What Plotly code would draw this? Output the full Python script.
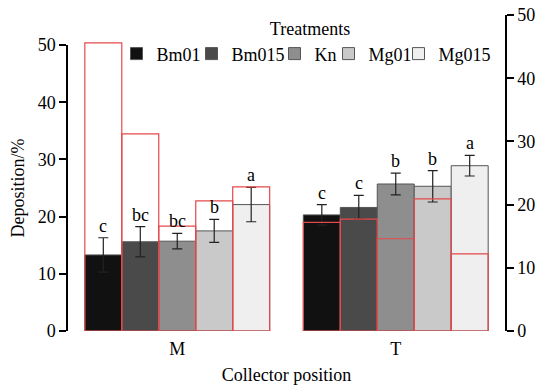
import plotly.graph_objects as go

positions = ["M", "T"]
treatments = ["Bm01", "Bm015", "Kn", "Mg01", "Mg015"]
colors = ["#111111", "#4a4a4a", "#8e8e8e", "#c9c9c9", "#efefef"]

# deposition (left axis), per treatment: [M, T]
dep = {
    "Bm01": [13.3, 20.3],
    "Bm015": [15.6, 21.6],
    "Kn": [15.7, 25.7],
    "Mg01": [17.5, 25.3],
    "Mg015": [22.1, 28.9],
}
err = {
    "Bm01": [3.0, 1.8],
    "Bm015": [2.65, 2.1],
    "Kn": [1.35, 1.9],
    "Mg01": [2.0, 2.75],
    "Mg015": [3.0, 1.8],
}
letters = {
    "Bm01": ["c", "c"],
    "Bm015": ["bc", "c"],
    "Kn": ["bc", "b"],
    "Mg01": ["b", "b"],
    "Mg015": ["a", "a"],
}
# red outlined bars (right axis)
red = {
    "Bm01": [45.6, 17.2],
    "Bm015": [31.2, 17.7],
    "Kn": [16.6, 14.6],
    "Mg01": [20.6, 20.9],
    "Mg015": [22.8, 12.2],
}

# legend entry widths (styling only)
legend_w = {"Bm01": 30, "Bm015": 38, "Kn": 9, "Mg01": 25, "Mg015": 60}

FONT = "Liberation Serif, Times New Roman, serif"
FS = 18
n = len(treatments)
group_w = 0.846
w = group_w / n

fig = go.Figure()
annotations = []
for i, t in enumerate(treatments):
    off = -group_w / 2 + i * w
    fig.add_trace(go.Bar(
        x=positions, y=dep[t], name=t, width=w, offset=off,
        legendwidth=legend_w[t],
        marker=dict(color=colors[i], line=dict(color="#555555", width=1)),
        error_y=dict(type="data", array=err[t], color="#222222", thickness=1.2, width=5),
        xaxis="x", yaxis="y",
    ))
    for j, p in enumerate(positions):
        annotations.append(dict(
            x=j + off + w / 2, y=dep[t][j] + err[t][j], xref="x", yref="y",
            text=letters[t][j], showarrow=False, yanchor="bottom", yshift=0,
            font=dict(family=FONT, size=FS, color="black"),
        ))
for i, t in enumerate(treatments):
    off = -group_w / 2 + i * w
    fig.add_trace(go.Bar(
        x=positions, y=red[t], width=w, offset=off, showlegend=False,
        marker=dict(color="rgba(0,0,0,0)", line=dict(color="#e5484b", width=1.2)),
        xaxis="x", yaxis="y2", hoverinfo="skip",
    ))

fig.update_layout(
    width=536, height=385,
    margin=dict(l=68, r=31, t=15, b=54, autoexpand=False),
    paper_bgcolor="white", plot_bgcolor="rgba(0,0,0,0)",
    font=dict(family=FONT, size=FS, color="black"),
    barmode="overlay",
    annotations=annotations,
    showlegend=True,
    legend=dict(
        orientation="h", x=0.111, xanchor="left", y=1.0095, yanchor="top",
        title=dict(text="Treatments", side="top center", font=dict(size=FS)),
        font=dict(size=FS), bgcolor="rgba(0,0,0,0)",
        itemwidth=30, entrywidthmode="pixels",
    ),
    xaxis=dict(
        type="category", range=[-0.5, 1.5], showline=False, ticks="",
        showgrid=False, zeroline=False, automargin=False, ticklabelstandoff=5,
        title=dict(text="Collector position", font=dict(size=FS), standoff=10),
    ),
    yaxis=dict(
        domain=[0, 286 / 316], range=[0, 50], tickvals=[0, 10, 20, 30, 40, 50],
        showline=True, linecolor="black", linewidth=1.5, ticks="outside",
        ticklen=7, tickwidth=1.5, tickcolor="black", showgrid=False, zeroline=False,
        automargin=False,
        title=dict(text="Deposition/%", font=dict(size=FS), standoff=8),
    ),
    yaxis2=dict(
        domain=[0, 1], range=[0, 50], tickvals=[0, 10, 20, 30, 40, 50],
        anchor="x", side="right", automargin=False,
        showline=True, linecolor="black", linewidth=1.5, ticks="outside",
        ticklen=7, tickwidth=1.5, tickcolor="black", showgrid=False, zeroline=False,
    ),
)

fig.write_html("out.html")
